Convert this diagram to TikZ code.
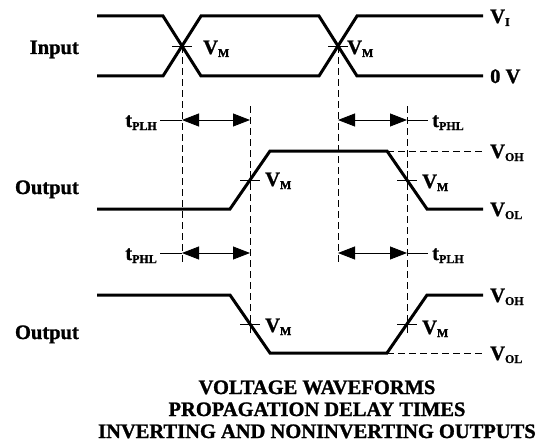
\documentclass[tikz,border=0pt]{standalone}
\usepackage{fontspec}
\setmainfont[BoldFeatures={FakeBold=1.2}]{Liberation Serif}
\usetikzlibrary{arrows.meta}

\newcommand{\lo}[1]{\raisebox{-3pt}{\fontsize{12pt}{12pt}\selectfont #1}}

\tikzset{
  wave/.style={line width=3pt},
  guide/.style={line width=0.9pt, dash pattern=on 7pt off 4pt},
  tick/.style={line width=0.8pt},
  span/.style={line width=0.8pt, {Triangle[length=17pt,width=13pt]}-{Triangle[length=17pt,width=13pt]}},
  lbl/.style={font=\fontsize{20.5pt}{22pt}\selectfont\bfseries, inner sep=0pt},
}

\begin{document}
\begin{tikzpicture}[x=1pt,y=-1pt]
\useasboundingbox (0,0) rectangle (538,444);

% input
\draw[wave] (97,16) -- (163,16) -- (201,76) -- (319,76) -- (357,16) -- (483,16);
\draw[wave] (97,76) -- (163,76) -- (201,16) -- (319,16) -- (357,76) -- (483,76);

% outputs
\draw[wave] (97,209) -- (230,209) -- (270,151) -- (387,151) -- (427,209) -- (483,209);
\draw[wave] (97,295) -- (230,295) -- (270,353) -- (387,353) -- (427,295) -- (483,295);

% crossing points
\coordinate (in1) at (182,46);
\coordinate (in2) at (338,46);
\coordinate (oa1) at (250,180);
\coordinate (ob1) at (407,180);
\coordinate (oa2) at (250,324);
\coordinate (ob2) at (407,324);

% ends of the guides
\coordinate (in1end) at (182,265);
\coordinate (in2end) at (338,265);
\coordinate (oatop) at (250,106);
\coordinate (obtop) at (407,106);
\coordinate (oh1) at (387,151);
\coordinate (oh1end) at (483,151);
\coordinate (ol2) at (387,353);
\coordinate (ol2end) at (483,353);

\draw[guide] (in1) -- (in1end);
\draw[guide] (in2) -- (in2end);
\draw[guide] (oatop) -- (oa2);
\draw[guide] (obtop) -- (ob2);
\draw[guide] (oh1) -- (oh1end);
\draw[guide] (ol2) -- (ol2end);

\foreach \p in {in1,in2,oa1,ob1,oa2,ob2}
  \draw[tick] ([xshift=-10pt]\p) -- ([xshift=10pt]\p);
\foreach \p in {oa1,ob1,oa2,ob2}
  \draw[tick] ([yshift=-9pt]\p) -- ([yshift=9pt]\p);

% delay spans
\coordinate (ra1) at (182,120);
\coordinate (rb1) at (250,120);
\coordinate (rc1) at (338,120);
\coordinate (rd1) at (407,120);
\coordinate (ra2) at (182,253);
\coordinate (rb2) at (250,253);
\coordinate (rc2) at (338,253);
\coordinate (rd2) at (407,253);

\draw[span] (ra1) -- (rb1);
\draw[span] (rc1) -- (rd1);
\draw[span] (ra2) -- (rb2);
\draw[span] (rc2) -- (rd2);

\node[lbl, anchor=base east] (tplhA) at (157,127) {t\lo{PLH}};
\node[lbl, anchor=base west] (tphlA) at (432,127) {t\lo{PHL}};
\node[lbl, anchor=base east] (tphlB) at (157,260) {t\lo{PHL}};
\node[lbl, anchor=base west] (tplhB) at (432,260) {t\lo{PLH}};

\draw[tick] ([xshift=3pt]tplhA.east |- ra1) -- (ra1);
\draw[tick] (rd1) -- ([xshift=-4pt]tphlA.west |- rd1);
\draw[tick] ([xshift=3pt]tphlB.east |- ra2) -- (ra2);
\draw[tick] (rd2) -- ([xshift=-4pt]tplhB.west |- rd2);

% signal names
\node[lbl, anchor=base east] (input) at (79,54) {Input};
\node[lbl, anchor=base east] (outA) at (79,194) {Output};
\node[lbl, anchor=base east] (outB) at (79,339) {Output};

% levels
\node[lbl, anchor=base west] (vi) at (490,23) {V\lo{I}};
\node[lbl, anchor=base west] (zero) at (490,83) {0 V};
\node[lbl, anchor=base west] (vohA) at (490,158) {V\lo{OH}};
\node[lbl, anchor=base west] (volA) at (490,216) {V\lo{OL}};
\node[lbl, anchor=base west] (vohB) at (490,302) {V\lo{OH}};
\node[lbl, anchor=base west] (volB) at (490,360) {V\lo{OL}};

% midpoints
\node[lbl, anchor=base west] (vmIn1) at (203,54) {V\lo{M}};
\node[lbl, anchor=base west] (vmIn2) at (347,54) {V\lo{M}};
\node[lbl, anchor=base west] (vmA1) at (265,186) {V\lo{M}};
\node[lbl, anchor=base west] (vmB1) at (422,188) {V\lo{M}};
\node[lbl, anchor=base west] (vmA2) at (265,332) {V\lo{M}};
\node[lbl, anchor=base west] (vmB2) at (422,334) {V\lo{M}};

% caption
\node[lbl, anchor=base] (title1) at (317,394) {VOLTAGE WAVEFORMS};
\node[lbl, anchor=base] (title2) at (317,416) {PROPAGATION DELAY TIMES};
\node[lbl, anchor=base] (title3) at (317,438) {INVERTING AND NONINVERTING OUTPUTS};

\end{tikzpicture}
\end{document}
